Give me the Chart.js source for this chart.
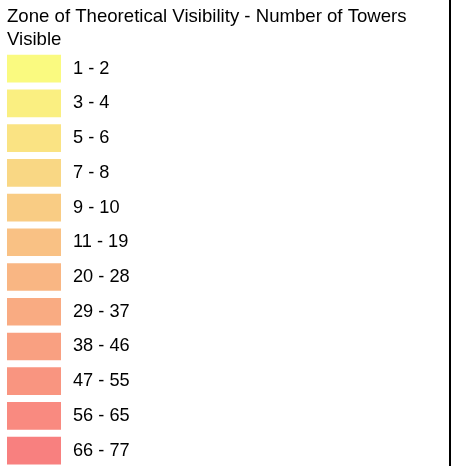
<!DOCTYPE html>
<html>
<head>
<meta charset="utf-8">
<script src="https://cdn.jsdelivr.net/npm/chart.js@4"></script>
<style>
  html, body { margin: 0; padding: 0; background: #fff; overflow: hidden; }
  #frame { width: 449px; height: 466px; border-right: 2px solid #000; overflow: hidden; }
</style>
</head>
<body>
<div id="frame"><canvas id="mychart" width="449" height="468"></canvas></div>
<script>
'use strict'

// 凡例の項目（見える鉄塔の数）
const ranges = ['1 - 2', '3 - 4', '5 - 6', '7 - 8', '9 - 10', '11 - 19', '20 - 28', '29 - 37', '38 - 46', '47 - 55', '56 - 65', '66 - 77'];
// 色見本の長さ（全部同じ）
const swatchValues = [1, 1, 1, 1, 1, 1, 1, 1, 1, 1, 1, 1];
const swatchColors = ['#fafa80', '#faef81', '#fae383', '#f9d784', '#f9cc84', '#f9c184', '#f9b683', '#f9ab82', '#f9a081', '#f99580', '#f98a80', '#f8807f'];
const titleLines = ['Zone of Theoretical Visibility - Number of Towers', 'Visible'];

Chart.defaults.font.family = "Arial, 'Liberation Sans', sans-serif";
Chart.defaults.color = '#000';

let ctx = document.getElementById('mychart');

let myChart = new Chart(ctx, {
  type: 'bar',
  data: {
    labels: ranges,
    datasets: [{
      data: swatchValues,
      backgroundColor: swatchColors,
      borderWidth: 0,
      barThickness: 27,
    }],
  },
  options: {
    indexAxis: 'y',
    responsive: false,
    devicePixelRatio: 1,
    animation: false,
    layout: { padding: { left: 7, right: 0, top: 0, bottom: 0 } },
    plugins: {
      legend: { display: false },
      tooltip: { enabled: false },
      title: {
        display: true,
        text: titleLines,
        align: 'start',
        color: '#000',
        font: { size: 18.6, weight: 'normal', lineHeight: '23px' },
        padding: { top: 5.2, bottom: 0.1 },
      },
    },
    scales: {
      x: { display: false, min: 0, max: 1 },
      y: {
        position: 'right',
        grid: { display: false, drawTicks: false },
        border: { display: false },
        ticks: { padding: 12, font: { size: 18.2 }, color: '#000' },
        afterFit: (scale) => {
          scale.width = 388; // 色見本の幅を61pxまでにする
          scale.paddingTop = 0; // ラベル分の余白を消す
          scale.paddingBottom = 0;
        },
      },
    },
  },
});
</script>
</body>
</html>
